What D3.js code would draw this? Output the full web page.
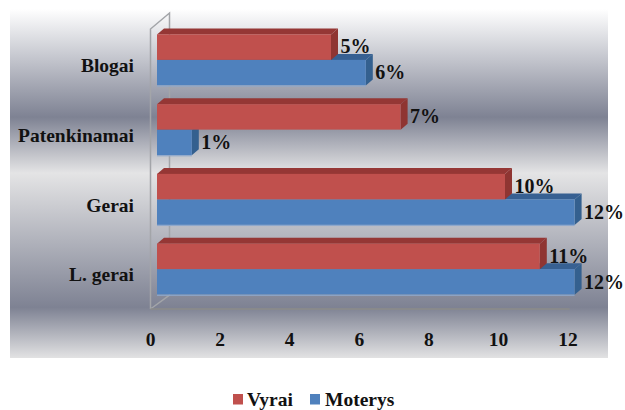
<!DOCTYPE html>
<html><head><meta charset="utf-8">
<script src="https://cdn.jsdelivr.net/npm/d3@7"></script>
<style>html,body{margin:0;padding:0;background:#fff}svg{display:block}
text{font-family:"Liberation Serif",serif;font-weight:bold;fill:#111}</style></head>
<body><svg id="c" width="625" height="410"></svg>
<script>
const categories = ["Blogai","Patenkinamai","Gerai","L. gerai"];
const vyrai = [5,7,10,11];
const moterys = [6,1,12,12];
const xTicks = [0,2,4,6,8,10,12];
const seriesNames = ["Vyrai","Moterys"];
const stops = [[0,"#ffffff"],[0.31,"#7e8293"],[0.47,"#e4e4e5"],[0.855,"#7e8293"],[1,"#e2e2e3"]];
const W=625,H=410,dx=7,dy=6,barH=25.5;
const svg=d3.select("#c");
const x=d3.scaleLinear().domain([0,12]).range([157,574.6]);
const y=d3.scaleBand().domain(categories).range([25,304]);
const defs=svg.append("defs");
const g=defs.append("linearGradient").attr("id","bg").attr("x1",0).attr("y1",0).attr("x2",0).attr("y2",1);
stops.forEach(s=>g.append("stop").attr("offset",s[0]).attr("stop-color",s[1]));
svg.append("rect").attr("x",10).attr("y",9).attr("width",598).attr("height",349).attr("fill","url(#bg)");
// walls
const wall="#a3a5a9";
svg.append("path").attr("fill","none").attr("stroke",wall).attr("stroke-width",1.5)
 .attr("d","M150.5,309V29L169.5,13V295L150.5,309");
svg.append("path").attr("fill","none").attr("stroke","#8b8b88").attr("stroke-width",1.5)
 .attr("d",`M150.5,309H${x(12)-5}`);
function bar(sel,val,cy,front,top,side){
  const x0=x(0),x1=x(val),h=barH;
  sel.append("path").attr("fill",top).attr("d",`M${x0},${cy}L${x0+dx},${cy-dy}H${x1+dx}L${x1},${cy}Z`);
  sel.append("path").attr("fill",side).attr("d",`M${x1},${cy}L${x1+dx},${cy-dy}V${cy+h-dy}L${x1},${cy+h}Z`);
  sel.append("rect").attr("x",x0).attr("y",cy).attr("width",x1-x0).attr("height",h).attr("fill",front);
}
categories.forEach((c,i)=>{
  const mid=y(c)+y.bandwidth()/2;
  const G=svg.append("g");
  bar(G,moterys[i],mid,"#4f81bd","#376092","#34608f");
  G.append("rect").attr("x",x(0)).attr("y",mid+barH).attr("width",x(moterys[i])-x(0)).attr("height",1.2).attr("fill","#8fa8cb");
  bar(G,vyrai[i],mid-barH,"#c0504d","#953735","#8f3532");
  svg.append("text").attr("x",x(vyrai[i])+9.5).attr("y",mid-6.5).attr("font-size",20).text(vyrai[i]+"%");
  svg.append("text").attr("x",x(moterys[i])+9.5).attr("y",mid+19.5).attr("font-size",20).text(moterys[i]+"%");
});
const ax=d3.axisBottom(x).tickValues(xTicks).tickSize(0).tickPadding(0);
const ga=svg.append("g").attr("transform","translate(-7,332)").call(ax);
ga.select(".domain").remove();
ga.selectAll("text").attr("font-size",19.5).attr("dy","0.71em").style("font-family",'"Liberation Serif",serif').style("fill","#111");
const ay=d3.axisLeft(y).tickSize(0).tickPadding(0);
const gy=svg.append("g").attr("transform","translate(134,6)").call(ay);
gy.select(".domain").remove();
gy.selectAll("text").attr("font-size",19.5).style("font-family",'"Liberation Serif",serif').style("fill","#111");
// legend
const lx=[233,310],tx=[247,325],lc=["#c0504d","#4f81bd"];
seriesNames.forEach((n,i)=>{
 svg.append("rect").attr("x",lx[i]).attr("y",394).attr("width",10).attr("height",10.5).attr("fill",lc[i]);
 svg.append("text").attr("x",tx[i]).attr("y",406).attr("font-size",19.5).text(n);
});
</script></body></html>
